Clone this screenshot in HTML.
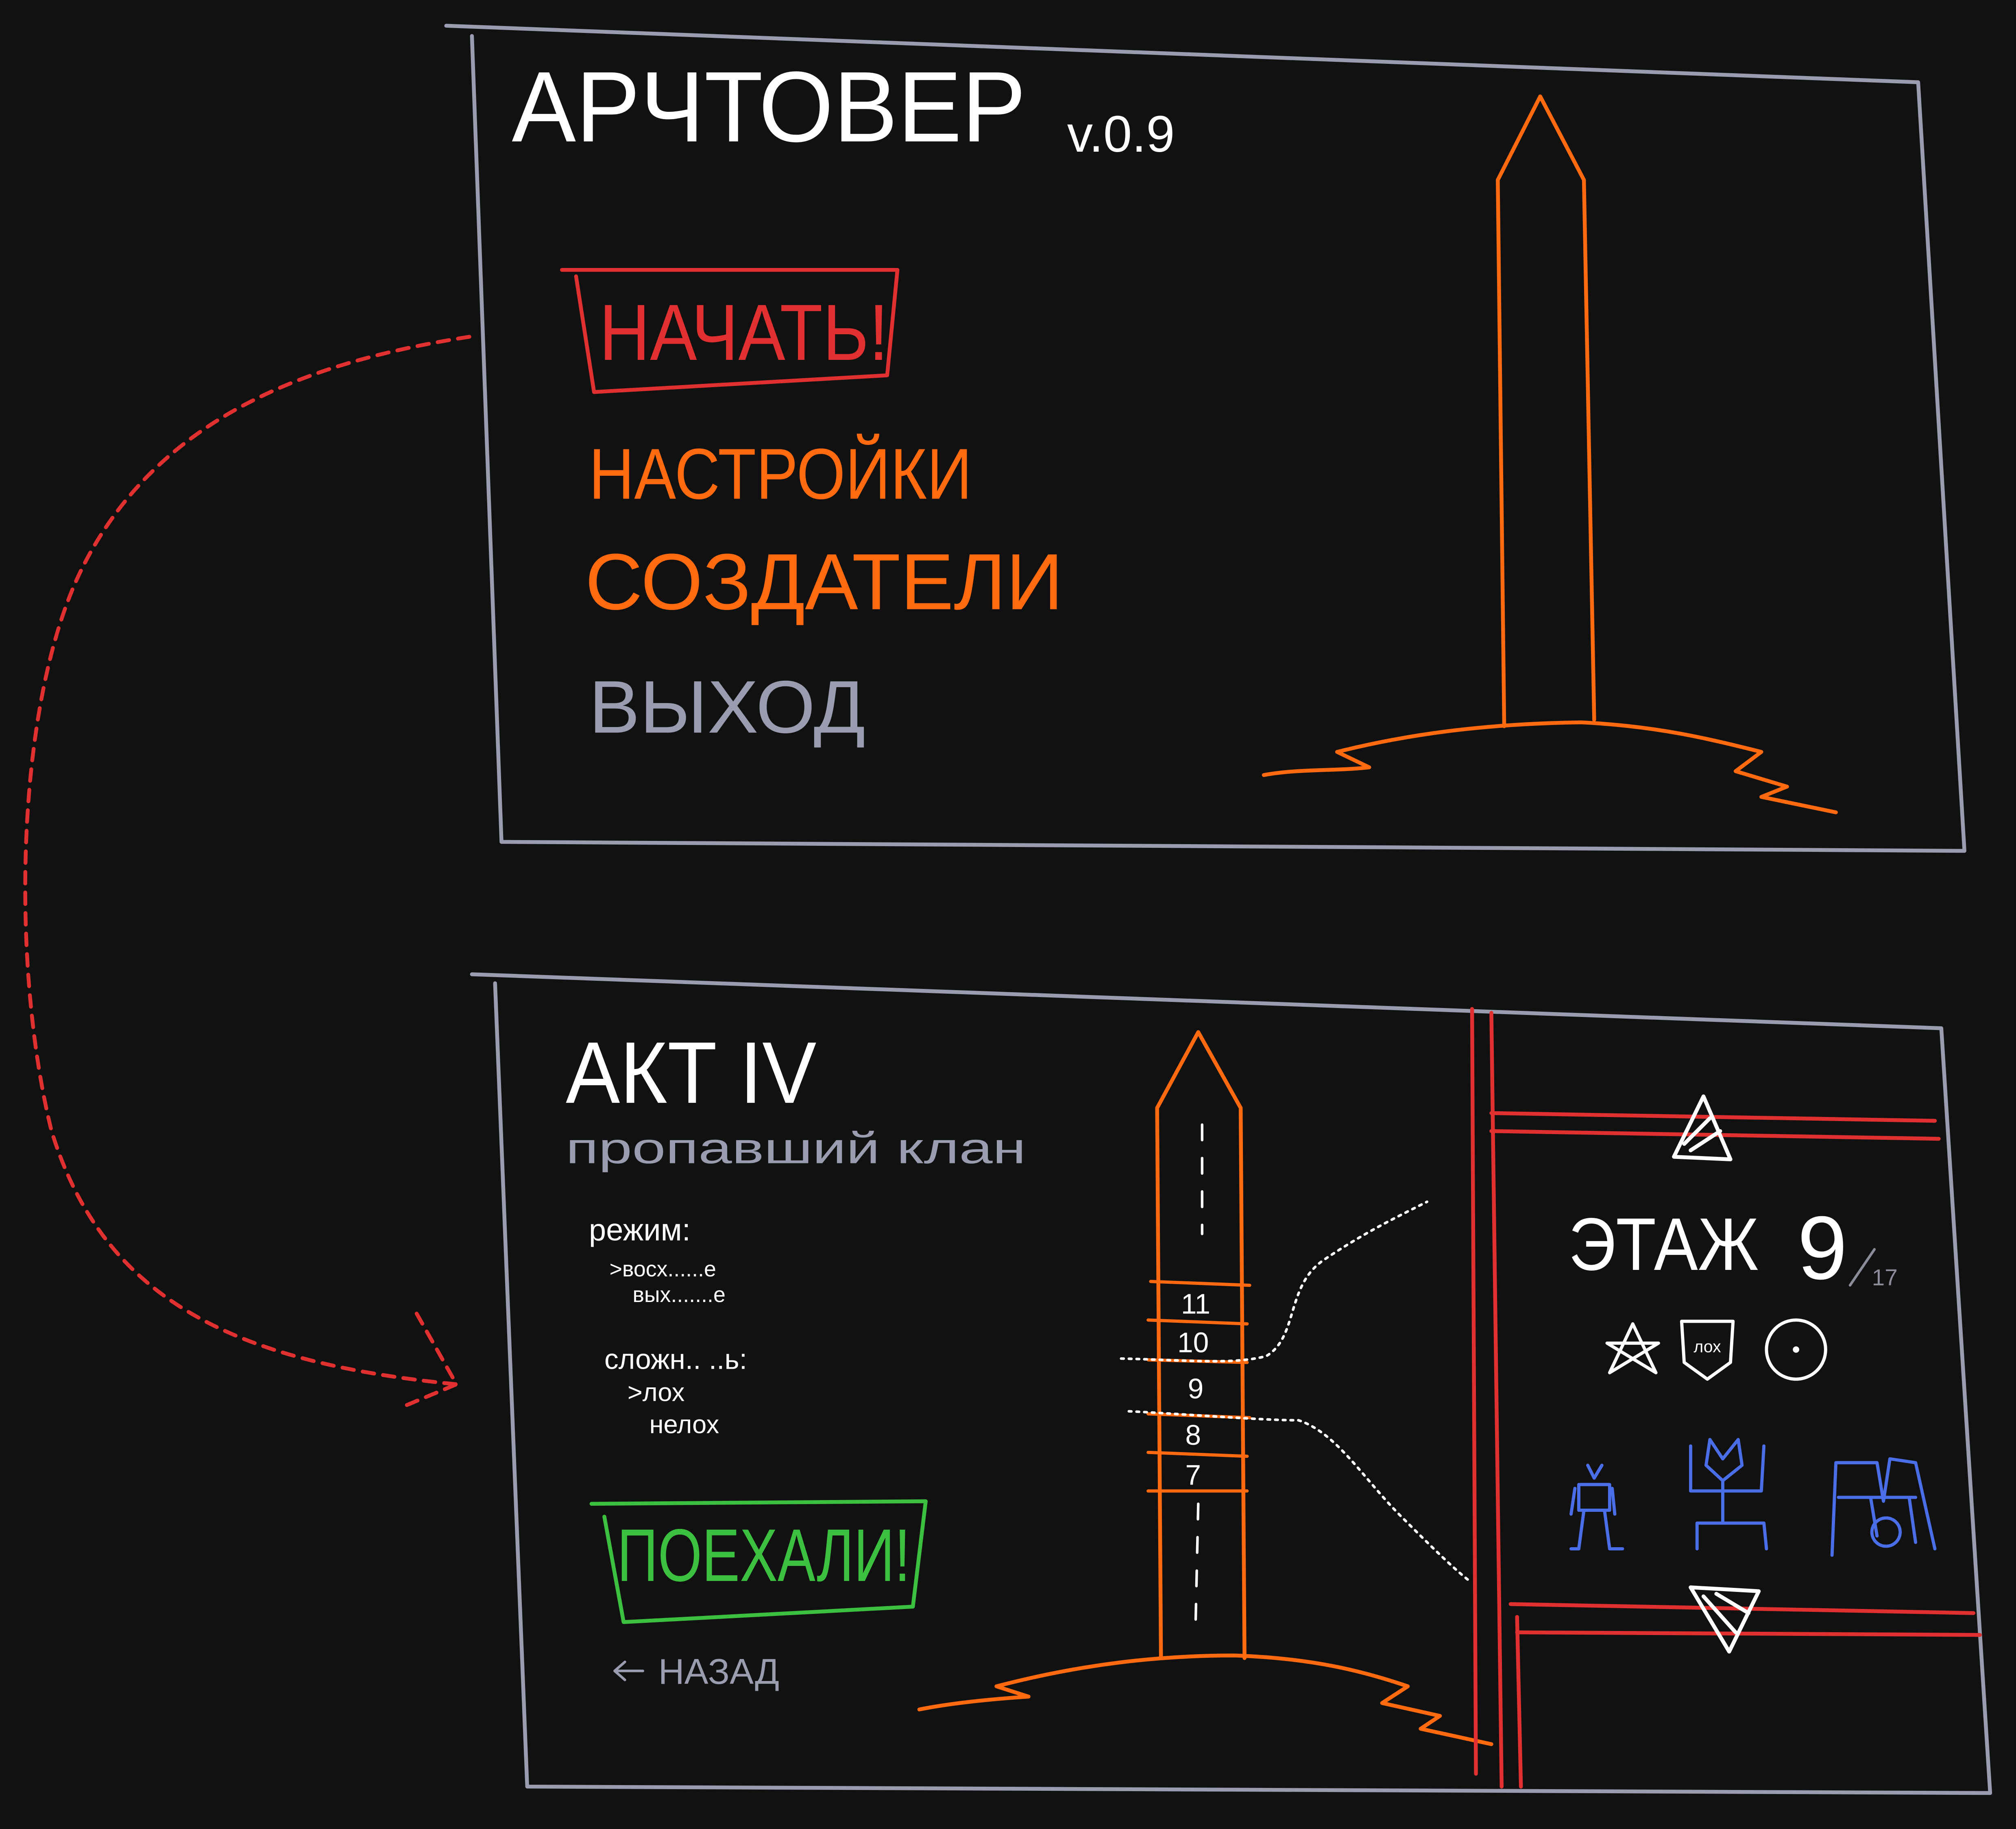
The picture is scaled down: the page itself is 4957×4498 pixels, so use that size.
<!DOCTYPE html>
<html><head><meta charset="utf-8"><style>
html,body{margin:0;padding:0;background:#111112;}
svg{display:block}
text{font-family:"Liberation Sans","DejaVu Sans",sans-serif;}
</style></head><body>
<svg width="4957" height="4498" viewBox="0 0 1568 1423" xmlns="http://www.w3.org/2000/svg">
<rect width="1568" height="1423" fill="#111112"/>
<g fill="none" stroke-linecap="round" stroke-linejoin="round">
<!-- top frame -->
<path d="M347,20 L1492,64 L1528,662 L390,655 L367,28" stroke="#9a9cb0" stroke-width="3"/>
<!-- bottom frame -->
<path d="M367,758 L1510,800 L1548,1395 L410,1390 L385,765" stroke="#9a9cb0" stroke-width="3"/>
<!-- dashed arrow -->
<path d="M365,262 C250,280 120,320 60,450 C10,560 10,760 40,880 C80,1010 180,1060 355,1077" stroke="#e03030" stroke-width="3" stroke-dasharray="9,7"/>
<path d="M324,1022 L355,1077 L312,1095" stroke="#e03030" stroke-width="3" stroke-dasharray="9,7"/>
<!-- start button -->
<path d="M437,210 L698,210 L690,292 L462,305 L448,215" stroke="#e03030" stroke-width="3"/>
<!-- top tower -->
<path d="M1170,565 L1165,140 L1198,75 L1232,140 L1240,560" stroke="#ff6a10" stroke-width="3"/>
<path d="M983,603 C1010,598 1040,600 1065,597 L1040,585 C1100,570 1160,563 1230,562 C1290,565 1330,575 1370,585 L1350,600 L1390,612 L1370,620 L1428,632" stroke="#ff6a10" stroke-width="3"/>
<!-- bottom tower -->
<path d="M903,1290 L900,862 L932,803 L965,862 L968,1290" stroke="#ff6a10" stroke-width="3"/>
<path d="M895,997 L972,1000 M893,1027 L970,1030 M893,1058 L970,1060 M893,1100 L972,1103 M893,1130 L970,1133 M893,1160 L970,1160" stroke="#ff6a10" stroke-width="2.5"/>
<path d="M935,875 L935,960 M932,1170 L930,1260" stroke="#ffffff" stroke-width="2" stroke-dasharray="12,14"/>
<path d="M715,1330 C740,1325 770,1322 800,1320 L775,1312 C840,1295 900,1288 960,1288 C1020,1290 1060,1300 1095,1312 L1075,1325 L1120,1335 L1105,1345 L1160,1357" stroke="#ff6a10" stroke-width="3"/>
<!-- dotted connectors -->
<path d="M872,1057 C920,1058 960,1062 985,1055 C1010,1040 1000,1000 1030,980 C1060,960 1080,950 1110,935" stroke="#ffffff" stroke-width="2" stroke-dasharray="2,4"/>
<path d="M878,1098 C920,1100 980,1105 1010,1105 C1040,1115 1060,1150 1090,1180 C1110,1200 1130,1220 1143,1230" stroke="#ffffff" stroke-width="2" stroke-dasharray="2,4"/>
<!-- red panel -->
<path d="M1145,785 L1148,1380 M1160,788 L1168,1390 M1180,1258 L1183,1390" stroke="#e03030" stroke-width="3"/>
<path d="M1160,866 L1505,872 M1160,880 L1508,886 M1175,1248 L1535,1255 M1180,1270 L1540,1272" stroke="#e03030" stroke-width="3"/>
<!-- green button -->
<path d="M460,1170 L720,1168 L710,1250 L485,1262 L470,1180" stroke="#3cc040" stroke-width="3"/>
<!-- triangles -->
<path d="M1302,900 L1325,853 L1346,902 Z M1310,890 L1330,870 M1315,895 L1338,880" stroke="#ffffff" stroke-width="3"/>
<path d="M1315,1235 L1368,1238 L1345,1285 Z M1325,1242 L1350,1270 M1335,1240 L1360,1255" stroke="#ffffff" stroke-width="3"/>
<!-- icons -->
<path d="M1252,1068 L1270,1030 L1288,1068 L1250,1045 L1290,1045 Z" stroke="#fff" stroke-width="2.5"/>
<path d="M1308,1028 L1348,1028 L1346,1060 L1328,1073 L1310,1060 Z" stroke="#fff" stroke-width="2.5"/>
<circle cx="1397" cy="1050" r="23" stroke="#fff" stroke-width="2.5"/>
<circle cx="1397" cy="1050" r="2" fill="#fff" stroke="#fff"/>
<!-- blue figures -->
<path d="M1228,1155 L1252,1155 L1252,1175 L1228,1175 Z M1222,1178 L1225,1158 M1256,1178 L1254,1158 M1232,1175 L1228,1205 L1222,1205 M1248,1175 L1252,1205 L1262,1205 M1240,1150 L1235,1140 M1240,1150 L1246,1140" stroke="#4a6ee8" stroke-width="2.5"/>
<path d="M1330,1120 L1340,1135 L1352,1120 L1355,1140 L1340,1152 L1327,1140 Z M1340,1152 L1340,1185 M1315,1125 L1315,1160 L1370,1160 L1372,1125 M1320,1205 L1320,1185 L1372,1185 L1374,1205" stroke="#4a6ee8" stroke-width="2.5"/>
<path d="M1425,1210 L1428,1138 L1460,1138 L1465,1168 L1470,1135 L1490,1138 L1505,1205 M1430,1165 L1490,1165 M1455,1165 L1460,1195 M1485,1165 L1490,1200" stroke="#4a6ee8" stroke-width="2.5"/>
<circle cx="1467" cy="1192" r="11" stroke="#4a6ee8" stroke-width="2.5"/>
<path d="M1439,1000 L1458,972" stroke="#8a8c9a" stroke-width="2"/>
<path d="M478,1300 L500,1300 M478,1300 L486,1293 M478,1300 L486,1307" stroke="#9a9cb0" stroke-width="2"/>
</g>
<!-- texts -->
<text x="398" y="110" font-size="78" fill="#ffffff" textLength="400" lengthAdjust="spacingAndGlyphs">АРЧТОВЕР</text>
<text x="830" y="118" font-size="40" fill="#ffffff">v.0.9</text>
<text x="466" y="280" font-size="62" fill="#e03030" textLength="225" lengthAdjust="spacingAndGlyphs">НАЧАТЬ!</text>
<text x="458" y="388" font-size="56" fill="#ff6a10" textLength="298" lengthAdjust="spacingAndGlyphs">НАСТРОЙКИ</text>
<text x="455" y="474" font-size="62" fill="#ff6a10" textLength="372" lengthAdjust="spacingAndGlyphs">СОЗДАТЕЛИ</text>
<text x="458" y="570" font-size="58" fill="#9a9cb0" textLength="215" lengthAdjust="spacingAndGlyphs">ВЫХОД</text>
<text x="440" y="858" font-size="68" fill="#ffffff" textLength="195" lengthAdjust="spacingAndGlyphs">АКТ IV</text>
<text x="440" y="905" font-size="34" fill="#9a9cb0" textLength="358" lengthAdjust="spacingAndGlyphs">пропавший клан</text>
<text x="458" y="965" font-size="24" fill="#ffffff">режим:</text>
<text x="474" y="993" font-size="17" fill="#ffffff">&gt;восх......е</text>
<text x="492" y="1013" font-size="17" fill="#ffffff">вых.......е</text>
<text x="470" y="1065" font-size="22" fill="#ffffff">сложн.. ..ь:</text>
<text x="488" y="1090" font-size="20" fill="#ffffff">&gt;лох</text>
<text x="505" y="1115" font-size="20" fill="#ffffff">нелох</text>
<text x="480" y="1230" font-size="58" fill="#3cc040" textLength="228" lengthAdjust="spacingAndGlyphs">ПОЕХАЛИ!</text>
<text x="512" y="1310" font-size="28" fill="#9a9cb0">НАЗАД</text>
<g fill="#ffffff" font-size="22" text-anchor="middle">
<text x="930" y="1022">11</text><text x="928" y="1052">10</text><text x="930" y="1088">9</text>
<text x="928" y="1124">8</text><text x="928" y="1155">7</text></g>
<text x="1220" y="988" font-size="58" fill="#ffffff" textLength="148" lengthAdjust="spacingAndGlyphs">ЭТАЖ</text>
<text x="1398" y="995" font-size="70" fill="#ffffff">9</text>
<text x="1456" y="1000" font-size="18" fill="#8a8c9a">17</text>
<text x="1328" y="1052" font-size="13" fill="#ffffff" text-anchor="middle">лох</text>
</svg>
</body></html>
